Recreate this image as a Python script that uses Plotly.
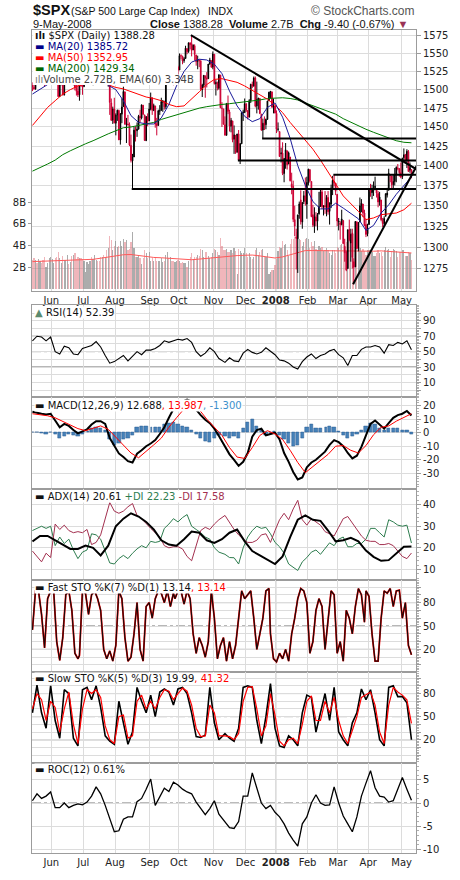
import numpy as np
import pandas as pd
import plotly.graph_objects as go

# trading days on the chart (weekends and NYSE holidays are skipped)
holidays = ['2007-05-28', '2007-07-04', '2007-09-03', '2007-11-22', '2007-12-25',
            '2008-01-01', '2008-01-21', '2008-02-18', '2008-03-21']
days = pd.bdate_range('2007-05-14', '2008-05-09')
days = days[~days.isin(pd.to_datetime(holidays))]

# daily prices, one row per month (May-07 ... May-08)
opens = [
    1506, 1503, 1501, 1514, 1513, 1523, 1525, 1524, 1522, 1508, 1516, 1517, 1530,
    1531, 1536, 1539, 1530, 1517, 1491, 1508, 1509, 1493, 1516, 1523, 1533, 1531, 1534, 1513, 1522, 1503, 1498, 1493, 1506, 1506,
    1504, 1519, 1525, 1525, 1530, 1532, 1510, 1519, 1548, 1552, 1549, 1549, 1546, 1553, 1534, 1541, 1511, 1518, 1482, 1459, 1474,
    1455, 1466, 1472, 1433, 1467, 1477, 1497, 1453, 1454, 1453, 1426, 1406, 1411, 1446, 1445, 1447, 1464, 1462, 1479, 1466, 1432, 1463, 1458,
    1474, 1489, 1472, 1478, 1454, 1452, 1471, 1472, 1483, 1484, 1477, 1520, 1529, 1519, 1526, 1517, 1518, 1526, 1531,
    1527, 1547, 1546, 1540, 1543, 1557, 1553, 1565, 1564, 1555, 1561, 1548, 1539, 1540, 1540, 1500, 1506, 1519, 1516, 1515, 1535, 1540, 1531,
    1549, 1508, 1509, 1502, 1520, 1475, 1474, 1453, 1439, 1481, 1470, 1451, 1458, 1434, 1439, 1417, 1441, 1407, 1428, 1469, 1469,
    1481, 1472, 1463, 1485, 1507, 1505, 1516, 1478, 1486, 1488, 1467, 1446, 1455, 1453, 1460, 1485, 1496, 1497, 1476, 1478,
    1468, 1447, 1444, 1415, 1416, 1390, 1406, 1419, 1402, 1411, 1377, 1374, 1333, 1312, 1310, 1340, 1357, 1330, 1355, 1362, 1352,
    1378, 1395, 1380, 1339, 1325, 1336, 1331, 1340, 1349, 1367, 1348, 1350, 1348, 1360, 1343, 1352, 1371, 1378, 1378, 1364,
    1330, 1329, 1327, 1332, 1301, 1294, 1275, 1321, 1305, 1317, 1283, 1277, 1330, 1299, 1330, 1350, 1352, 1341, 1327, 1316,
    1327, 1370, 1366, 1369, 1374, 1371, 1365, 1355, 1357, 1332, 1328, 1337, 1363, 1369, 1388, 1387, 1376, 1380, 1389, 1397, 1396, 1391,
    1386, 1410, 1414, 1406, 1418, 1394, 1395,
]
highs = [
    1510, 1514, 1514, 1517, 1523, 1529, 1529, 1532, 1529, 1518, 1521, 1530, 1535,
    1540, 1540, 1539, 1530, 1517, 1508, 1515, 1511, 1516, 1526, 1539, 1535, 1535, 1537, 1523, 1522, 1514, 1506, 1507, 1514, 1517,
    1520, 1527, 1526, 1532, 1534, 1532, 1519, 1548, 1555, 1556, 1555, 1549, 1556, 1553, 1548, 1541, 1524, 1518, 1488, 1477, 1489,
    1468, 1473, 1473, 1468, 1488, 1504, 1497, 1462, 1466, 1456, 1440, 1415, 1450, 1451, 1456, 1466, 1473, 1479, 1479, 1466, 1464, 1468, 1482,
    1496, 1489, 1481, 1478, 1462, 1473, 1479, 1489, 1486, 1485, 1519, 1538, 1529, 1530, 1530, 1518, 1529, 1532, 1533,
    1550, 1549, 1547, 1545, 1561, 1557, 1565, 1566, 1576, 1563, 1563, 1548, 1547, 1542, 1540, 1508, 1520, 1519, 1524, 1535, 1544, 1540, 1553,
    1549, 1513, 1511, 1521, 1520, 1483, 1474, 1464, 1482, 1492, 1473, 1462, 1458, 1452, 1439, 1441, 1446, 1429, 1470, 1473, 1488,
    1481, 1472, 1487, 1508, 1511, 1518, 1518, 1511, 1489, 1488, 1467, 1461, 1464, 1461, 1485, 1497, 1498, 1497, 1488, 1478,
    1472, 1456, 1444, 1423, 1430, 1409, 1429, 1419, 1418, 1411, 1391, 1381, 1350, 1322, 1339, 1355, 1369, 1354, 1368, 1385, 1386,
    1396, 1395, 1380, 1351, 1348, 1342, 1341, 1367, 1370, 1370, 1350, 1368, 1363, 1368, 1354, 1376, 1387, 1388.5, 1378, 1364,
    1335, 1331, 1345, 1332, 1310, 1296, 1320, 1333, 1322, 1322, 1287, 1330, 1331, 1330, 1360, 1358, 1352, 1345, 1334, 1328,
    1371, 1377, 1376, 1380, 1386, 1371, 1368, 1367, 1357, 1335, 1337, 1365, 1372, 1396, 1389, 1387, 1388, 1397, 1399, 1402, 1397, 1404,
    1410, 1422, 1415, 1421, 1420, 1404, 1395,
]
lows = [
    1498, 1500, 1500, 1510, 1512, 1522, 1522, 1522, 1505, 1508, 1513, 1510, 1529,
    1530, 1532, 1524, 1514, 1490, 1490, 1506, 1492, 1492, 1515, 1523, 1529, 1525, 1512, 1506, 1499, 1492, 1490, 1485, 1504, 1493,
    1504, 1519, 1517, 1518, 1527, 1510, 1506, 1519, 1546, 1547, 1547, 1533, 1546, 1530, 1534, 1508, 1504, 1466, 1458, 1454, 1455,
    1439, 1458, 1433, 1427, 1455, 1477, 1453, 1429, 1452, 1425, 1404, 1370.6, 1411, 1431, 1437, 1447, 1456, 1460, 1466, 1432, 1432, 1451, 1458,
    1472, 1466, 1471, 1449, 1439, 1452, 1466, 1472, 1470, 1473, 1474, 1520, 1517, 1519, 1515, 1506, 1518, 1525, 1521,
    1527, 1542, 1535, 1537, 1543, 1549, 1551, 1556, 1546, 1555, 1540, 1533, 1528, 1531, 1500, 1490, 1503, 1489, 1503, 1515, 1535, 1530, 1528,
    1507, 1492, 1499, 1500, 1475, 1450, 1453, 1439, 1439, 1467, 1444, 1443, 1430, 1415, 1415, 1417, 1406, 1402, 1428, 1458, 1469,
    1470, 1460, 1463, 1482, 1502, 1504, 1476, 1468, 1473, 1467, 1445, 1435, 1446, 1447, 1460, 1485, 1488, 1476, 1468, 1468,
    1442, 1444, 1411, 1404, 1388, 1379, 1396, 1395, 1402, 1380, 1364, 1330, 1313, 1274, 1270, 1334, 1327, 1322, 1352, 1350, 1334,
    1375, 1379, 1336, 1324, 1317, 1325, 1320, 1339, 1349, 1346, 1338, 1340, 1337, 1339, 1327, 1347, 1363, 1374, 1363, 1325,
    1320, 1309, 1326, 1304, 1283, 1272, 1275, 1307, 1283, 1275, 1257, 1277, 1298, 1295, 1330, 1342, 1336, 1325, 1312, 1313,
    1327, 1361, 1358, 1362, 1369, 1360, 1348, 1350, 1331, 1324, 1324, 1337, 1360, 1369, 1379, 1370, 1370, 1375, 1379, 1394, 1386, 1384,
    1383, 1406, 1404, 1397, 1392, 1391, 1384,
]
closes = [
    1503.2, 1501.2, 1514.1, 1512.8, 1522.8, 1525.1, 1524.1, 1522.3, 1507.5, 1515.7, 1518.1, 1530.2, 1530.6,
    1536.3, 1539.2, 1530.9, 1517.4, 1490.7, 1507.7, 1509.1, 1493.0, 1515.7, 1522.9, 1532.9, 1531.1, 1533.7, 1512.8, 1522.2, 1502.6, 1497.7, 1492.9, 1506.3, 1505.7, 1503.4,
    1519.4, 1524.9, 1525.4, 1530.4, 1531.9, 1510.1, 1518.8, 1547.7, 1552.5, 1549.5, 1549.4, 1546.2, 1553.1, 1534.1, 1541.6, 1511.0, 1518.1, 1482.7, 1458.9, 1473.9, 1455.3,
    1465.8, 1472.2, 1433.1, 1467.7, 1476.7, 1497.5, 1453.6, 1453.6, 1452.9, 1426.5, 1406.7, 1411.3, 1445.9, 1445.6, 1447.1, 1464.1, 1462.5, 1479.4, 1466.8, 1432.4, 1463.8, 1457.6, 1473.9,
    1489.4, 1472.3, 1478.6, 1453.6, 1451.7, 1471.5, 1471.6, 1483.9, 1484.3, 1476.7, 1519.8, 1529.0, 1518.8, 1525.8, 1517.7, 1517.2, 1525.4, 1531.4, 1526.8,
    1547.0, 1546.6, 1539.6, 1542.8, 1557.6, 1552.6, 1565.2, 1562.5, 1554.4, 1561.8, 1548.7, 1538.5, 1541.2, 1540.1, 1500.6, 1506.3, 1519.6, 1515.9, 1514.4, 1535.3, 1540.9, 1531.0, 1549.4,
    1508.4, 1509.7, 1502.2, 1520.3, 1475.6, 1474.8, 1453.7, 1439.2, 1481.1, 1470.6, 1451.2, 1458.7, 1433.3, 1439.7, 1416.8, 1440.7, 1407.2, 1428.2, 1469.0, 1469.7, 1481.1,
    1472.4, 1462.8, 1485.0, 1507.3, 1504.7, 1516.0, 1477.7, 1486.6, 1488.4, 1467.9, 1445.9, 1455.0, 1453.0, 1460.1, 1484.5, 1496.5, 1497.7, 1476.3, 1478.5, 1468.4,
    1447.2, 1447.2, 1411.6, 1416.2, 1390.2, 1409.1, 1420.3, 1401.0, 1416.3, 1380.9, 1373.2, 1333.3, 1325.2, 1310.5, 1338.6, 1352.1, 1330.6, 1354.0, 1362.3, 1355.8, 1378.6,
    1395.4, 1380.8, 1336.6, 1326.5, 1336.9, 1331.3, 1339.1, 1348.9, 1367.2, 1348.9, 1350.0, 1348.8, 1360.0, 1342.5, 1353.1, 1371.8, 1381.3, 1380.0, 1367.7, 1331.3,
    1331.3, 1326.8, 1333.7, 1304.3, 1293.4, 1273.4, 1320.7, 1308.8, 1315.5, 1288.1, 1276.6, 1330.7, 1298.4, 1329.5, 1349.9, 1353.0, 1341.1, 1325.8, 1315.2, 1322.7,
    1370.2, 1367.5, 1369.3, 1370.4, 1372.5, 1365.5, 1354.5, 1360.6, 1332.8, 1328.3, 1334.4, 1364.7, 1365.6, 1390.3, 1388.2, 1375.9, 1379.9, 1388.8, 1397.8, 1396.4, 1390.9, 1385.6,
    1409.3, 1413.9, 1407.5, 1418.3, 1392.6, 1397.7, 1388.28,
]
# daily volume, billions of shares
volume = [
    2.7, 2.9, 2.7, 2.4, 2.8, 2.6, 2.4, 2.7, 3.0, 2.1, 2.4, 2.9, 3.0,
    2.8, 2.4, 2.9, 3.0, 3.4, 2.9, 2.4, 3.1, 2.7, 2.7, 3.2, 2.3, 2.5, 3.1, 3.2, 3.3, 2.8, 3.0, 2.9, 2.9, 2.8,
    2.6, 1.6, 2.5, 2.3, 2.6, 3.0, 2.8, 3.2, 2.7, 2.6, 2.6, 3.0, 3.0, 3.2, 3.0, 3.6, 3.8, 4.9, 4.5, 3.6, 4.0,
    4.4, 3.9, 4.0, 4.4, 4.0, 4.6, 4.3, 4.5, 3.6, 3.7, 4.3, 5.3, 3.8, 3.0, 3.0, 3.2, 2.9, 2.3, 2.9, 3.6, 3.3, 2.9, 3.4,
    2.6, 2.9, 2.6, 2.9, 2.6, 2.6, 2.6, 2.9, 2.5, 2.6, 3.2, 3.4, 2.9, 3.0, 2.6, 2.6, 2.5, 2.6, 2.7,
    2.6, 2.4, 2.5, 2.4, 2.4, 2.1, 2.6, 3.0, 3.3, 2.8, 3.0, 3.0, 3.2, 3.1, 3.7, 3.6, 3.0, 3.4, 3.4, 3.1, 2.9, 3.0, 3.3,
    3.7, 3.6, 3.4, 3.2, 4.7, 4.0, 3.6, 3.6, 3.7, 3.4, 3.4, 3.6, 3.3, 3.8, 3.5, 1.4, 3.7, 3.5, 3.3, 3.3, 3.8,
    3.3, 3.0, 3.3, 3.0, 2.8, 3.0, 3.6, 3.8, 3.2, 3.4, 3.6, 3.7, 3.0, 3.0, 3.3, 1.4, 1.6, 1.8, 1.8, 2.2,
    2.8, 3.5, 3.9, 3.8, 4.4, 4.1, 4.2, 3.6, 3.1, 4.2, 4.6, 4.6, 4.8, 5.3, 5.0, 4.6, 4.5, 4.0, 4.3, 4.6, 4.7,
    4.6, 3.8, 4.3, 4.0, 4.4, 3.7, 3.6, 4.0, 3.8, 3.9, 3.5, 3.6, 3.8, 3.6, 3.3, 3.2, 3.6, 3.6, 3.3, 3.9,
    3.8, 4.1, 4.2, 4.4, 4.6, 4.3, 5.0, 4.4, 4.6, 4.8, 5.1, 5.0, 4.8, 4.7, 3.8, 3.5, 3.7, 3.5, 3.2, 3.6,
    3.6, 3.4, 3.4, 3.1, 3.1, 3.3, 3.6, 3.3, 3.4, 3.1, 3.6, 3.9, 3.6, 3.7, 3.0, 3.5, 3.7, 3.6, 3.5, 3.0, 3.4, 3.4,
    3.6, 3.6, 3.1, 3.1, 3.4, 3.3, 2.72,
]

# smooth series read roughly once a week
ma20 = [1494, 1501, 1507, 1513, 1516, 1518, 1517, 1515, 1514, 1516,
        1506, 1500, 1485, 1465, 1456, 1454, 1454, 1462, 1480, 1505,
        1525, 1538, 1542, 1541, 1535, 1522, 1498, 1478, 1464, 1457,
        1461, 1476, 1482, 1463, 1435, 1400, 1375, 1355, 1346, 1346,
        1353, 1347, 1341, 1334, 1320, 1326, 1341, 1351, 1364, 1375, 1385.72]
ma50 = [1452, 1464, 1476, 1485, 1494, 1500, 1505, 1508, 1510, 1510,
        1506, 1503, 1501, 1497, 1493, 1490, 1488, 1485, 1480, 1477,
        1478, 1487, 1497, 1507, 1514, 1515, 1513, 1510, 1505, 1499,
        1492, 1487, 1479, 1469, 1456, 1444, 1433, 1421, 1407, 1391,
        1377, 1362, 1353, 1343, 1333, 1335, 1339, 1340, 1341, 1345, 1352.95]
ma200 = [1393, 1397, 1402, 1407, 1414, 1419, 1424, 1428, 1432, 1437,
         1441, 1445, 1449, 1450, 1452, 1453, 1456, 1460, 1463, 1466,
         1469, 1472, 1475, 1477, 1479, 1480, 1481, 1482, 1484, 1485,
         1486, 1488, 1489, 1489, 1488, 1486, 1482, 1478, 1475, 1471,
         1467, 1461, 1456, 1451, 1447, 1443, 1439, 1435, 1432, 1430, 1429.34]
vol_ema = [2.55, 2.57, 2.59, 2.61, 2.63, 2.65, 2.68, 2.71, 2.76, 2.86,
           2.97, 3.08, 3.18, 3.2, 3.1, 2.98, 2.93, 2.9, 2.86, 2.8,
           2.72, 2.72, 2.78, 2.85, 2.93, 3.02, 3.08, 3.1, 3.13, 3.15,
           3.07, 2.98, 2.88, 2.98, 3.18, 3.4, 3.56, 3.56, 3.55, 3.54,
           3.52, 3.5, 3.48, 3.47, 3.45, 3.5, 3.53, 3.48, 3.42, 3.38, 3.34]
macd_signal = [14, 13.5, 12.5, 11, 8.5, 5.5, 3, 1.5, 3.5, 5,
               2.5, -3.5, -9.5, -15, -18.5, -14, -9, -4, 4, 11,
               17.5, 20.5, 17, 10, 4, -2, -11, -18, -19, -11,
               -2, 1.5, -1, -5, -13, -22, -29.5, -25, -20.5, -16,
               -10, -9.5, -13, -15, -9.5, -1.5, 4, 5, 8.5, 11, 13.99]
adx = [23, 25.5, 25.5, 23.5, 21.5, 19.5, 19.5, 21, 20, 16.5,
       21, 30, 33.5, 36, 34.5, 32, 28.5, 23.5, 21.5, 21,
       24, 27.5, 27, 23.5, 22.3, 24, 27, 28.5, 23, 18.5,
       16.5, 14.6, 12.5, 16, 25, 33, 35, 33, 32.5, 28,
       23, 23.5, 24.6, 23, 18.7, 15.8, 14, 14.3, 17.5, 20.5, 20.61]

# jagged indicators read about every third session
rsi = [64, 70, 69, 64, 69, 50, 47, 57, 55, 47, 46, 54, 56, 58, 63, 56, 45, 35, 37, 41,
       45, 38, 44, 50, 46, 52, 52, 54, 58, 64, 62, 64, 66, 65, 67, 62, 50, 44, 48, 55,
       50, 41, 36, 42, 38, 37, 48, 53, 49, 47, 49, 55, 51, 46, 39, 38, 35, 30, 27.5, 37,
       43, 47, 41, 45, 47, 51, 53, 46, 42, 32, 45, 45, 53, 56, 56, 58, 56, 48, 59, 58,
       62, 60, 64, 52.39]
macd = [15.5, 14.5, 14, 13.5, 14, 9, 4, 6.5, 5, 2, -0.5, 1, 2.5, 6, 8.5, 8.5, 6.5, -4, -10, -15.3,
        -18, -21, -22, -15.5, -13, -10, -8, -5.5, -1, 4, 11, 17.5, 21.5, 23, 24.5, 23, 17, 13, 9.5, 7,
        3, -2.5, -10, -16, -20, -24.5, -21.5, -15, -3, 2, 3, -2, -1, 0, -5, -15, -21.5, -29, -34.5, -33,
        -25.5, -22, -20, -17, -14, -9, -5.5, -7, -10, -15, -19, -17, -10.5, -2, 6.5, 9, 6, 3, 7, 11,
        13, 14, 16, 12.69]
macd_hist = [0, 0.5, -0.5, -1, 0, -1.5, -4, -3, -1, -2, -2.5, -1, 1, 3, 4, 3, 2, -5, -9, -8,
             -5, -4, -2, 4, 5, 5, 4, 4, 4, 6, 7, 8, 6, 5, 4, 2, -1, -4, -6, -7,
             -4, -2, -3, -4, -3, -4, 3, 8, 10, 5, 2, -2, -1, 1, -2, -5, -8, -10, -9, -4,
             4, 6, 3, 3, 4, 5, 4, 1, -2, -4, -3, -1, 2, 5, 7, 6, 3, 2, 3, 3,
             3, 2, 2, -1.3]
plus_di = [28, 29, 30, 29, 30, 21, 25, 22, 24, 19, 15, 18, 19, 26.5, 26, 24, 18, 13, 12.5, 15,
           16.5, 15, 17.5, 19.5, 21, 20, 23, 22.5, 23, 29, 31, 33.5, 32, 34, 35.4, 30, 28.5, 27, 25, 24,
           20, 18, 17, 15.5, 15.4, 12.5, 20, 25, 28, 30, 29, 29.5, 26.5, 22.5, 20.5, 17.5, 12.5, 11, 9.5, 13.5,
           15.5, 18, 19, 17, 19.5, 22.3, 21, 24, 25, 20.5, 20.5, 22, 22, 24, 29, 29, 27, 25, 33, 32,
           30.5, 30, 30.5, 22.23]
minus_di = [18.5, 16, 13.5, 17.5, 15.5, 31, 28.5, 30.5, 28, 27, 27.5, 27, 28.5, 21.5, 22.5, 26, 34, 41, 37, 36,
            37, 39, 40.5, 35, 33.5, 31, 29, 27, 25, 21, 20, 20.5, 20.5, 19.5, 16, 14, 21.5, 28, 29.5, 28.5,
            31, 33, 35, 31.5, 28.5, 26, 24, 22.5, 22.5, 23.5, 26, 26.5, 22.5, 28, 33, 36, 33, 38, 42, 33,
            30.5, 33.5, 32, 30.5, 27.5, 26.5, 25.5, 29.5, 33.5, 34.5, 31.5, 28.5, 25.5, 23.5, 23, 23, 21.5, 21.5, 22, 21,
            18.5, 16, 15, 17.58]
# fast stochastic read about every second session
fast_k = [45, 95, 95, 65, 22, 85, 95, 95, 30, 6, 35, 90, 95, 70, 15, 8, 12, 95, 92, 65,
          90, 95, 85, 70, 20, 8, 18, 5, 25, 95, 85, 35, 5, 10, 40, 80, 20, 5, 75, 80,
          60, 85, 95, 92, 80, 95, 75, 92, 85, 95, 95, 78, 95, 85, 40, 15, 35, 25, 10, 30,
          95, 60, 8, 25, 35, 5, 30, 8, 25, 60, 95, 85, 90, 95, 60, 20, 40, 60, 95, 98,
          40, 8, 4, 15, 8, 20, 5, 40, 60, 85, 98, 95, 80, 15, 30, 70, 85, 75, 20, 60,
          95, 90, 15, 30, 5, 70, 60, 40, 75, 98, 90, 55, 95, 88, 40, 5, 5, 60, 95, 92,
          98, 75, 95, 96, 60, 80, 25, 13.14]
slow_k = [55, 91, 55, 35, 90, 45, 22, 85, 80, 22, 12, 85, 88, 72, 90, 62, 25, 18, 14, 70,
          42, 14, 30, 88, 70, 55, 78, 50, 82, 86, 82, 65, 86, 88, 80, 55, 24, 23, 26, 88,
          42, 20, 28, 22, 18, 35, 88, 90, 88, 45, 15, 50, 93, 35, 12, 10, 25, 20, 12, 55,
          78, 75, 30, 55, 80, 45, 88, 30, 20, 12, 42, 55, 86, 72, 85, 55, 20, 12, 88, 90,
          76, 76, 68, 19.99]
slow_d = [60, 80, 72, 45, 70, 62, 30, 60, 82, 40, 15, 60, 85, 80, 85, 75, 38, 20, 15, 50,
          52, 22, 25, 70, 78, 60, 70, 60, 75, 85, 83, 72, 80, 87, 83, 65, 35, 24, 25, 65,
          55, 25, 25, 24, 20, 28, 70, 88, 89, 60, 25, 38, 80, 52, 18, 12, 20, 22, 15, 40,
          70, 77, 45, 45, 70, 55, 75, 45, 25, 15, 32, 50, 75, 78, 82, 65, 30, 15, 65, 88,
          82, 78, 72, 41.32]
roc = [0.5, 2, 1, 1.5, 2.4, -1, -1, 0, -1, -0.5, -0.2, -0.4, 0.2, 1.5, 3.5, 2, -0.5, -3.5, -6.2, -6,
       -3.5, -3, -3, 0.3, 1, 3, 5.2, -0.5, 1.5, 3.2, 2.5, 4.5, 3.9, 3, 2.4, 2, 0.2, -1.2, -2.5, -1.2,
       0.5, -2.4, -4.2, -5.3, -5.5, -4, 1.5, 1.5, 6.5, 3.5, 0, -1.2, -0.5, -2, -3, -4.5, -6.5, -8, -9.3, -4.5,
       -3, 0, 1.8, 0, -0.5, -0.4, 3.5, 0, -2.8, -4.5, -6.2, -3, 1.5, 4.3, 7, 3.3, 1.5, 1.3, 0.2, 0.5,
       3, 5.5, 3, 0.61]

# lines the chartist drew on the price panel
trend_down = (['2007-10-11', '2008-05-16'], [1576, 1394])
trend_up = (['2008-03-17', '2008-05-16'], [1257, 1403.5])
levels = [('2007-08-16', 1370.6), ('2007-11-26', 1406.5),
          ('2007-12-18', 1435), ('2008-02-27', 1388.5)]

month_vals = ['2007-06-01', '2007-07-02', '2007-08-01', '2007-09-04', '2007-10-01', '2007-11-01',
              '2007-12-03', '2008-01-02', '2008-02-01', '2008-03-03', '2008-04-01', '2008-05-01']
month_text = ['Jun', 'Jul', 'Aug', 'Sep', 'Oct', 'Nov', 'Dec', '<b>2008</b>', 'Feb', 'Mar', 'Apr', 'May']

half_day = pd.Timedelta(hours=12)
xd = days + half_day


def spread(vals):
    idx = np.linspace(0, len(days) - 1, len(vals)).round().astype(int)
    return days[idx] + half_day


# ---- geometry (page pixels) ----
W, H = 460, 880
PL, PR, PT, PB = 32, 416, 30, 859          # plot area
FONT = 'DejaVu Sans'
HEAD = 'Liberation Sans'
GRID = '#dcdcdc'
EDGE = '#9c9c9c'


def fx(p):
    return (p - PL) / (PR - PL)


def fy(p):
    return (PB - p) / (PB - PT)


panels = [(30, 293), (307, 400), (400, 492), (492, 584), (584, 677), (677, 768), (768, 859)]

# ---- traces ----
c = np.array(closes)
up = c >= np.r_[opens[0], c[:-1]]
O, Hh, Lw = np.array(opens), np.array(highs), np.array(lows)

traces = []
traces.append(go.Bar(x=xd, y=volume, width=86400000 * 0.8,
                     marker=dict(color=np.where(up, 'rgba(140,140,140,0.72)', 'rgba(225,110,120,0.5)'), line_width=0),
                     xaxis='x', yaxis='y'))
traces.append(go.Scatter(x=spread(vol_ema), y=vol_ema, mode='lines', line=dict(color='#ff5a5a', width=1),
                         xaxis='x', yaxis='y'))
for mask, col in [(up, '#000000'), (~up, '#cc0033')]:
    side = dict(line=dict(color=col, width=1), fillcolor=col)
    traces.append(go.Candlestick(x=xd[mask], open=O[mask], high=Hh[mask], low=Lw[mask], close=c[mask],
                                 increasing=side, decreasing=side, whiskerwidth=0,
                                 xaxis='x', yaxis='y8'))
traces.append(go.Scatter(x=spread(ma200), y=ma200, mode='lines', line=dict(color='#007a00', width=1), xaxis='x', yaxis='y8'))
traces.append(go.Scatter(x=spread(ma50), y=ma50, mode='lines', line=dict(color='#ff0000', width=1), xaxis='x', yaxis='y8'))
traces.append(go.Scatter(x=spread(ma20), y=ma20, mode='lines', line=dict(color='#1a1a9a', width=1), xaxis='x', yaxis='y8'))
for xs, ys in [trend_down, trend_up]:
    traces.append(go.Scatter(x=xs, y=ys, mode='lines', line=dict(color='black', width=2), xaxis='x', yaxis='y8'))
for start, lvl in levels:
    traces.append(go.Scatter(x=[start, '2008-05-16'], y=[lvl, lvl], mode='lines',
                             line=dict(color='black', width=2), xaxis='x', yaxis='y8'))

traces.append(go.Scatter(x=spread(rsi), y=rsi, mode='lines', line=dict(color='black', width=1.1), xaxis='x2', yaxis='y2'))

traces.append(go.Bar(x=spread(macd_hist), y=macd_hist, width=86400000 * 2.2,
                     marker=dict(color='rgb(70,130,185)', line=dict(color='rgb(40,90,145)', width=0.5)),
                     xaxis='x3', yaxis='y3'))
traces.append(go.Scatter(x=spread(macd), y=macd, mode='lines', line=dict(color='black', width=2), xaxis='x3', yaxis='y3'))
traces.append(go.Scatter(x=spread(macd_signal), y=macd_signal, mode='lines', line=dict(color='#ff0000', width=1), xaxis='x3', yaxis='y3'))

traces.append(go.Scatter(x=spread(plus_di), y=plus_di, mode='lines', line=dict(color='#2e7d4f', width=1), xaxis='x4', yaxis='y4'))
traces.append(go.Scatter(x=spread(minus_di), y=minus_di, mode='lines', line=dict(color='#a3304f', width=1), xaxis='x4', yaxis='y4'))
traces.append(go.Scatter(x=spread(adx), y=adx, mode='lines', line=dict(color='black', width=2), xaxis='x4', yaxis='y4'))

traces.append(go.Scatter(x=spread(fast_k), y=fast_k, mode='lines', line=dict(color='#ff0000', width=1.8), xaxis='x5', yaxis='y5'))
traces.append(go.Scatter(x=spread(fast_k), y=fast_k, mode='lines', line=dict(color='#1a0a0a', width=1.2), xaxis='x5', yaxis='y5'))

traces.append(go.Scatter(x=spread(slow_k), y=slow_k, mode='lines', line=dict(color='black', width=1.6), xaxis='x6', yaxis='y6'))
traces.append(go.Scatter(x=spread(slow_d), y=slow_d, mode='lines', line=dict(color='#ff0000', width=1.2), xaxis='x6', yaxis='y6'))

traces.append(go.Scatter(x=spread(roc), y=roc, mode='lines', line=dict(color='black', width=1.3), xaxis='x7', yaxis='y7'))

# ---- layout ----
rb = [dict(bounds=['sat', 'mon']), dict(values=holidays)]
xr = ['2007-05-14 05:00', '2008-05-14 12:00']
tick_font = dict(family=FONT, size=10, color='#222')

layout = dict(width=W, height=H, margin=dict(l=PL, r=W - PR, t=PT, b=H - PB),
              paper_bgcolor='white', plot_bgcolor='white', showlegend=False,
              font=dict(family=FONT, size=10, color='#222'), hovermode=False, bargap=0)

for i, (top, bot) in enumerate(panels, start=1):
    sx = '' if i == 1 else str(i)
    xa = dict(type='date', domain=[0, 1], range=xr, rangebreaks=rb, anchor='y' + sx,
              tickmode='array', tickvals=month_vals, ticktext=month_text,
              showticklabels=i in (1, 7), showgrid=True, gridcolor=GRID, zeroline=False,
              showline=True, mirror=True, linecolor=EDGE, ticks='', tickfont=tick_font,
              rangeslider=dict(visible=False))
    if i > 1:
        xa['matches'] = 'x'
    layout['xaxis' + sx] = xa


def yax(top, bot, rng, vals, text=None, minor=None):
    a = dict(domain=[fy(bot), fy(top)], range=rng, side='right', tickmode='array', tickvals=vals,
             ticktext=text if text else [str(v) for v in vals], showgrid=True, gridcolor=GRID,
             zeroline=False, showline=True, mirror=True, linecolor=EDGE, ticks='outside', ticklen=4,
             tickcolor=EDGE, tickfont=tick_font, fixedrange=True)
    if minor:
        a['minor'] = dict(ticks='outside', ticklen=2, tickcolor='#b0b0b0', dtick=minor, showgrid=False)
    return a


def every10(shown):
    return [str(v) if v in shown else '' for v in range(0, 101, 10)]


layout['yaxis'] = dict(domain=[fy(293), fy(30)], range=[-0.15, 23.75], side='left', tickmode='array',
                       tickvals=[2, 4, 6, 8], ticktext=['2B', '4B', '6B', '8B'], showgrid=False,
                       zeroline=False, showline=True, mirror=True, linecolor=EDGE, ticks='outside',
                       ticklen=3, tickcolor=EDGE, tickfont=tick_font, fixedrange=True)
layout['yaxis8'] = dict(overlaying='y', anchor='x', side='right', type='log',
                        range=[np.log10(1249.2), np.log10(1583.5)], tickmode='array',
                        tickvals=list(range(1275, 1576, 25)), showgrid=True, gridcolor=GRID,
                        zeroline=False, showline=False, ticks='outside', ticklen=4, tickcolor=EDGE,
                        tickfont=tick_font, fixedrange=True)
layout['yaxis2'] = yax(307, 400, [-9.4, 110.6], list(range(0, 101, 10)), every10([10, 30, 50, 70, 90]), 2)
layout['yaxis3'] = yax(400, 492, [-41.3, 26.1], [-30, -20, -10, 0, 10, 20], None, 2)
layout['yaxis4'] = yax(492, 584, [5.1, 47.4], [10, 20, 30, 40], None, 2)
layout['yaxis5'] = yax(584, 677, [-9.4, 109], list(range(0, 101, 10)), every10([20, 50, 80]), 2)
layout['yaxis6'] = yax(677, 768, [-9.8, 107.6], list(range(0, 101, 10)), every10([20, 50, 80]), 2)
layout['yaxis7'] = yax(768, 859, [-10.8, 8.73], [-10, -5, 0, 5], None, 1)

shapes = []
for i in range(1, 8):
    sx = '' if i == 1 else str(i)
    shapes.append(dict(type='line', xref='x' + sx, x0='2008-01-02', x1='2008-01-02',
                       yref='y' + sx + ' domain', y0=0, y1=1, line=dict(color='#a6a6a6', width=1), layer='below'))


def hline(n, val, dash='solid'):
    return dict(type='line', xref='x%d domain' % n, x0=0, x1=1, yref='y%d' % n, y0=val, y1=val,
                line=dict(color='#6e6e6e', width=1, dash=dash), layer='below')


for n, lo, hi in [(2, 30, 70), (5, 20, 80), (6, 20, 80)]:
    shapes += [hline(n, lo), hline(n, hi), hline(n, 50, 'dashdot')]
shapes.append(hline(7, 0, 'dashdot'))
# white box behind the price legend
shapes.append(dict(type='rect', xref='paper', yref='paper', x0=fx(32.6), x1=fx(178), y0=fy(85.5), y1=fy(30.6),
                   fillcolor='white', line=dict(width=0), layer='above'))
layout['shapes'] = shapes


def note(x, y, text, size=10, color='#222', anchor='left', bg='rgba(0,0,0,0)', family=FONT):
    return dict(xref='paper', yref='paper', x=fx(x), y=fy(y), text=text, showarrow=False,
                xanchor=anchor, yanchor='middle', bgcolor=bg, borderpad=0,
                font=dict(family=family, size=size, color=color))


RED = '#ff0000'
ann = [
    note(32, 10, '<b>$SPX</b>', 14.5, '#111', family=HEAD),
    note(70, 11, '(S&amp;P 500 Large Cap Index)', 10.5, '#111', family=HEAD),
    note(207, 11, 'INDX', 10.5, '#111', family=HEAD),
    note(416, 11, '\u00a9 StockCharts.com', 12, '#555', 'right', family=HEAD),
    note(32, 24, '9-May-2008', 11, '#111', family=HEAD),
    note(409, 24, '<b>Close</b> 1388.28  <b>Volume</b> 2.7B  <b>Chg</b> -9.40 (-0.67%) '
                  '<span style="color:#993355">\u25bc</span>', 11, '#111', 'right', family=HEAD),
    note(34, 36, '<b>\u0131l\u0131</b> $SPX (Daily) 1388.28', 10, '#111'),
    note(34, 46.5, '\u25ac MA(20) 1385.72', 10, '#000088'),
    note(34, 57.5, '\u25ac MA(50) 1352.95', 10, RED),
    note(34, 68.5, '\u25ac MA(200) 1429.34', 10, '#006600'),
    note(34, 79.5, '<span style="color:#777">\u0131l\u0131</span>Volume 2.72B, EMA(60) 3.34B', 10, '#444'),
    note(34, 315, '<span style="color:#5b8a6e">\u25b2</span> RSI(14) 52.39', 10, '#111', bg='white'),
    note(34, 408, '\u25ac MACD(12,26,9) 12.688<span style="color:#ff0000">, 13.987</span>'
                  '<span style="color:#3d8fcc">, -1.300</span>', 10, '#111', bg='white'),
    note(34, 500, '\u25ac ADX(14) 20.61 <span style="color:#2e7d4f">+DI 22.23</span> '
                  '<span style="color:#a3304f">-DI 17.58</span>', 10, '#111', bg='white'),
    note(34, 591.5, '\u25ac Fast STO %K(7) %D(1) 13.14<span style="color:#ff0000">, 13.14</span>',
         10, '#111', bg='white'),
    note(34, 683.5, '\u25ac Slow STO %K(5) %D(3) 19.99<span style="color:#ff0000">, 41.32</span>',
         10, '#111', bg='white'),
    note(34, 775, '\u25ac ROC(12) 0.61%', 10, '#111', bg='white'),
]
layout['annotations'] = ann

fig = go.Figure(data=traces, layout=go.Layout(**layout))
fig.update_traces(showlegend=False)
# the page's default 8px body margin would push the 460x880 figure off the window;
# the mode bar would sit on top of the header text
fig.write_html("out.html", config={'displayModeBar': False},
               post_script="document.body.style.margin='0';")
